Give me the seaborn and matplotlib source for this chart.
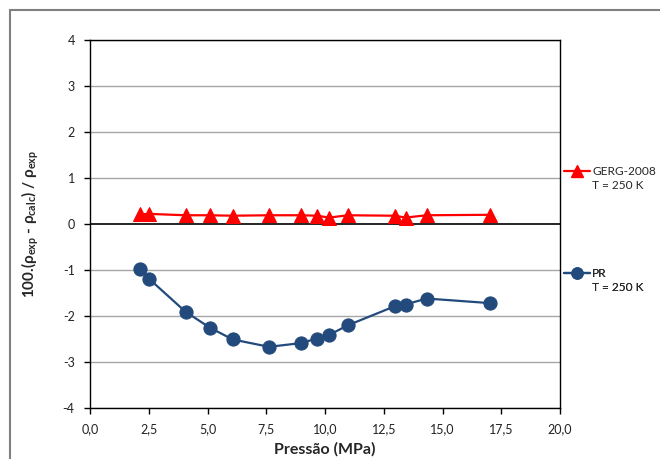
import matplotlib
matplotlib.use("Agg")
import matplotlib.pyplot as plt
from matplotlib.lines import Line2D
import seaborn as sns
import pandas as pd

# Pressure (MPa) of the experimental points
pressao = [2.13, 2.51, 4.07, 5.09, 6.07, 7.62, 8.96, 9.66, 10.18, 10.98, 12.96, 13.43, 14.32, 17.02]
# Relative deviations 100.(rho_exp - rho_calc)/rho_exp
desvio_gerg = [0.21, 0.22, 0.19, 0.19, 0.18, 0.19, 0.19, 0.18, 0.14, 0.19, 0.18, 0.14, 0.19, 0.20]
desvio_pr = [-0.98, -1.19, -1.91, -2.25, -2.51, -2.67, -2.59, -2.49, -2.41, -2.20, -1.79, -1.75, -1.62, -1.72]

series_labels = ["GERG-2008", "PR"]
temperatura = "T = 250 K"
x_ticks = [0, 2.5, 5, 7.5, 10, 12.5, 15, 17.5, 20]
x_tick_labels = ["0,0", "2,5", "5,0", "7,5", "10,0", "12,5", "15,0", "17,5", "20,0"]
y_ticks = [-4, -3, -2, -1, 0, 1, 2, 3, 4]

sns.set_theme(style="white")
plt.rcParams["font.family"] = ["Lato", "DejaVu Sans"]
plt.rcParams["mathtext.fontset"] = "custom"
plt.rcParams["mathtext.rm"] = "Lato"
plt.rcParams["mathtext.bf"] = "Lato:bold"
plt.rcParams["mathtext.it"] = "Lato:italic"

df = pd.DataFrame({"p": pressao, "gerg": desvio_gerg, "pr": desvio_pr})

fig = plt.figure(figsize=(6.6, 4.59), dpi=100)
ax = fig.add_axes([90 / 660, 51 / 459, 470 / 660, 368 / 459])

# horizontal grid
for yv in y_ticks:
    if yv == 0:
        ax.axhline(yv, color="black", lw=1.2, zorder=1)
    else:
        ax.axhline(yv, color="#a6a6a6", lw=1.0, zorder=1)

sns.lineplot(data=df, x="p", y="gerg", ax=ax, color="#ff0000", lw=1.6,
             marker="^", markersize=9.5, markeredgecolor="#ff0000",
             label=series_labels[0], zorder=3, legend=False)
sns.lineplot(data=df, x="p", y="pr", ax=ax, color="#234a7c", lw=1.6,
             marker="o", markersize=9.5, markeredgecolor="#234a7c",
             label=series_labels[1], zorder=3, legend=False)

ax.set_xlim(0, 20)
ax.set_ylim(-4, 4)
ax.set_xticks(x_ticks)
ax.set_xticklabels(x_tick_labels)
ax.set_yticks(y_ticks)
ax.set_yticklabels([str(v) for v in y_ticks])
ax.tick_params(axis="both", direction="out", length=4, width=1, color="black",
               labelsize=9, labelcolor="#222222", bottom=True, left=True)
ax.tick_params(axis="y", pad=7)
ax.tick_params(axis="x", pad=7)
ax.grid(False)
for s in ax.spines.values():
    s.set_color("black")
    s.set_linewidth(1.0)

ax.set_xlabel("Pressão (MPa)", fontsize=11.5, fontweight="bold", labelpad=5)
ax.set_ylabel(r"100.(ρ$_{\mathbf{exp}}$ - ρ$_{\mathbf{calc}}$) / ρ$_{\mathbf{exp}}$",
              fontsize=11, fontweight="bold", labelpad=16)

# one legend block per series, with the temperature on a second line
blank = Line2D([], [], linestyle="none", marker="none")
lines = ax.get_lines()
series_lines = [ln for ln in lines if ln.get_label() in series_labels]
anchors = [0.624, 0.347]
for ln, lab, ya in zip(series_lines, series_labels, anchors):
    h = Line2D([], [], color=ln.get_color(), lw=1.6, marker=ln.get_marker(),
               markersize=8, markeredgecolor=ln.get_color())
    leg = ax.legend([h, blank], [lab, temperatura], loc="center left",
                    bbox_to_anchor=(1.0, ya), frameon=False, fontsize=8.6,
                    labelspacing=0.25, handlelength=2.2, handletextpad=0.15,
                    borderaxespad=0.0, borderpad=0.35)
    ax.add_artist(leg)

# outer frame of the chart area
fig.add_artist(Line2D([10 / 660, 1.0], [1 - 10 / 459, 1 - 10 / 459],
                      transform=fig.transFigure, color="#808080", lw=1.5))
fig.add_artist(Line2D([10 / 660, 10 / 660], [0, 1 - 10 / 459],
                      transform=fig.transFigure, color="#808080", lw=1.5))

fig.savefig("out.png", dpi=100)
